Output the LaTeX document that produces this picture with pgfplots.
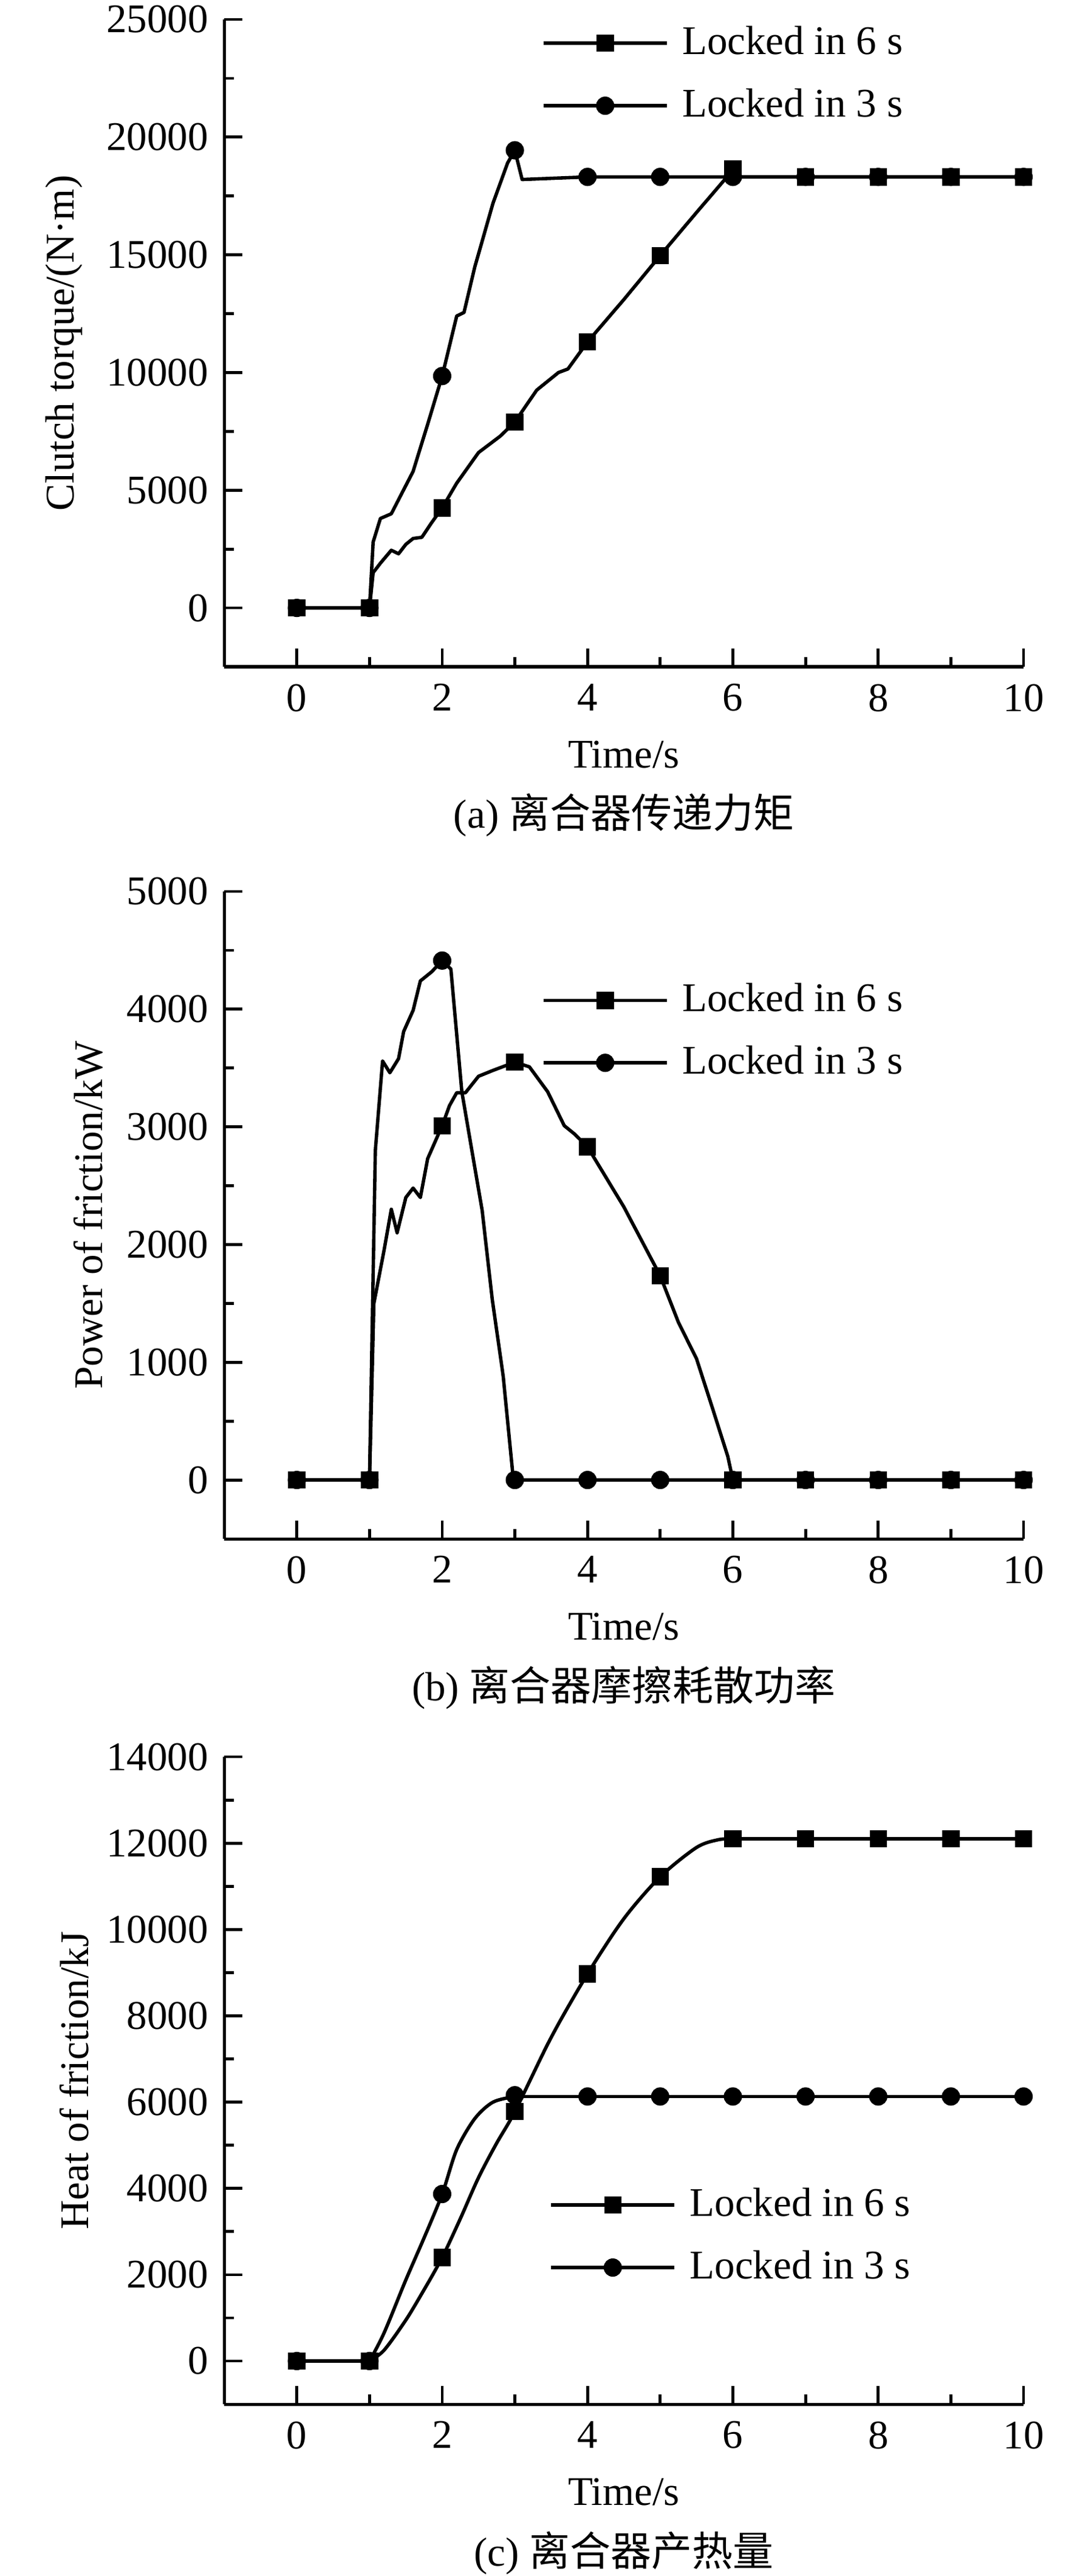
\documentclass[12pt,border=0pt]{standalone}
\usepackage{fontspec}
\setmainfont{Liberation Serif}
\newfontfamily\cjk{Noto Sans CJK SC}
\usepackage{pgfplots}
\pgfplotsset{compat=1.18}

\pgfplotsset{
  myaxis/.style={
    width=235.70pt, height=190.92pt, scale only axis,
    xmin=-1, xmax=10, clip=false,
    axis x line*=bottom, axis y line*=left,
    axis line style={line width=0.9pt, -},
    tick style={line width=0.85pt, black},
    tick align=inside,
    major tick length=5.4pt, minor tick length=2.8pt,
    xtick={0,2,...,10}, minor xtick={1,3,...,9},
    scaled y ticks=false, scaled x ticks=false,
    /pgf/number format/assume math mode=true,
    /pgf/number format/1000 sep={},
    xticklabel style={yshift=-0.9pt},
    yticklabel style={xshift=-0.5pt},
    xlabel={Time/s},
    xlabel style={at={(axis description cs:0.5,0)}, anchor=base, yshift=-29.73pt},
    legend image code/.code={\draw[mark repeat=2,mark phase=2] plot coordinates {(0pt,0pt) (18.15pt,0pt) (36.3pt,0pt)};},
    legend style={draw=none, fill=none, inner sep=0pt, outer sep=0pt, row sep=8.3pt, column sep=4.1pt, nodes={inner sep=0pt}},
    legend cell align=left,
  },
  ln/.style={black, line width=1pt, line join=round, forget plot},
  sq/.style={black, only marks, mark=square*, mark size=2.3pt, mark options={line width=0.5pt}, forget plot},
  ci/.style={black, only marks, mark=*, mark size=2.45pt, mark options={line width=0.5pt}, forget plot},
}

\begin{document}
\begin{tikzpicture}

% ---------------- (a) ----------------
\begin{axis}[myaxis, name=a, at={(66.09pt,-196.65pt)}, anchor=south west,
  ymin=-2500, ymax=25000,
  ytick={0,5000,...,25000}, minor ytick={2500,7500,...,22500},
  ylabel={Clutch torque/(N·m)},
  ylabel style={at={(axis description cs:-0.1877,0.5)}, anchor=base},
  legend style={at={(axis description cs:0.3975,0.9897)}, anchor=north west}]
\addlegendimage{black, line width=1pt, mark=square*, mark size=2.3pt, mark options={line width=0.5pt}}
\addlegendentry{Locked in 6 s}
\addlegendimage{black, line width=1pt, mark=*, mark size=2.45pt, mark options={line width=0.5pt}}
\addlegendentry{Locked in 3 s}
\addplot[ln] coordinates {(0,0) (1,0) (1.05,1500) (1.15,1900) (1.3,2450) (1.4,2300) (1.5,2700) (1.6,2950) (1.72,3000) (1.85,3600) (2,4250) (2.2,5300) (2.5,6600) (2.8,7300) (3,7900) (3.3,9250) (3.6,10000) (3.73,10150) (4,11300) (4.5,13100) (5,14970) (5.5,16800) (6,18600) (6.1,18310) (10,18310)};
\addplot[sq] coordinates {(0,0) (1,0) (2,4250) (3,7900) (4,11300) (5,14970) (6,18650) (7,18310) (8,18310) (9,18310) (10,18310)};
\addplot[ln] coordinates {(0,0) (1,0) (1.05,2800) (1.15,3800) (1.3,4000) (1.45,4900) (1.6,5800) (1.8,7800) (2,9850) (2.2,12400) (2.3,12550) (2.45,14500) (2.7,17200) (2.9,18900) (3,19440) (3.1,18200) (4,18310) (10,18310)};
\addplot[ci] coordinates {(0,0) (1,0) (2,9850) (3,19440) (4,18310) (5,18310) (6,18310) (7,18310) (8,18310) (9,18310) (10,18310)};
\end{axis}
\node[anchor=base] at ([yshift=-47.64pt]a.south) {(a) {\cjk 离合器传递力矩}};

% ---------------- (b) ----------------
\begin{axis}[myaxis, name=b, at={(66.09pt,-453.84pt)}, anchor=south west,
  ymin=-500, ymax=5000,
  ytick={0,1000,...,5000}, minor ytick={500,1500,...,4500},
  ylabel={Power of friction/kW},
  ylabel style={at={(axis description cs:-0.1527,0.5)}, anchor=base},
  legend style={at={(axis description cs:0.3975,0.8583)}, anchor=north west}]
\addlegendimage{black, line width=1pt, mark=square*, mark size=2.3pt, mark options={line width=0.5pt}}
\addlegendentry{Locked in 6 s}
\addlegendimage{black, line width=1pt, mark=*, mark size=2.45pt, mark options={line width=0.5pt}}
\addlegendentry{Locked in 3 s}
\addplot[ln] coordinates {(0,0) (1,0) (1.06,1500) (1.2,1950) (1.3,2300) (1.38,2100) (1.5,2400) (1.6,2480) (1.7,2400) (1.8,2730) (2,3010) (2.1,3180) (2.2,3290) (2.32,3290) (2.5,3430) (2.7,3480) (3,3550) (3.2,3510) (3.45,3300) (3.68,3010) (3.82,2940) (4,2830) (4.5,2320) (5,1735) (5.25,1340) (5.5,1030) (5.74,570) (5.93,200) (6,0) (10,0)};
\addplot[sq] coordinates {(0,0) (1,0) (2,3010) (3,3550) (4,2830) (5,1735) (6,0) (7,0) (8,0) (9,0) (10,0)};
\addplot[ln] coordinates {(0,0) (1,0) (1.08,2800) (1.18,3560) (1.28,3460) (1.4,3580) (1.47,3810) (1.6,3990) (1.7,4240) (1.86,4320) (2,4413) (2.12,4340) (2.27,3300) (2.55,2290) (2.69,1530) (2.84,880) (2.98,0) (3,0) (10,0)};
\addplot[ci] coordinates {(0,0) (1,0) (2,4413) (3,0) (4,0) (5,0) (6,0) (7,0) (8,0) (9,0) (10,0)};
\end{axis}
\node[anchor=base] at ([yshift=-47.64pt]b.south) {(b) {\cjk 离合器摩擦耗散功率}};

% ---------------- (c) ----------------
\begin{axis}[myaxis, name=c, at={(66.09pt,-709.06pt)}, anchor=south west,
  ymin=-1000, ymax=14000,
  ytick={0,2000,...,14000}, minor ytick={1000,3000,...,13000},
  ylabel={Heat of friction/kJ},
  ylabel style={at={(axis description cs:-0.1695,0.5)}, anchor=base},
  legend style={at={(axis description cs:0.407,0.3341)}, anchor=north west}]
\addlegendimage{black, line width=1pt, mark=square*, mark size=2.3pt, mark options={line width=0.5pt}}
\addlegendentry{Locked in 6 s}
\addlegendimage{black, line width=1pt, mark=*, mark size=2.45pt, mark options={line width=0.5pt}}
\addlegendentry{Locked in 3 s}
\addplot[ln] coordinates {(0,0) (1,0)};
\addplot[ln, smooth, tension=0.5] coordinates {(1,0) (1.2,250) (1.5,950) (1.75,1650) (2,2400) (2.25,3300) (2.5,4250) (2.75,5050) (3,5780) (3.5,7500) (4,8970) (4.5,10250) (5,11220) (5.5,11900) (5.8,12080) (6,12100)};
\addplot[ln] coordinates {(6,12100) (10,12100)};
\addplot[sq] coordinates {(0,0) (1,0) (2,2400) (3,5780) (4,8970) (5,11220) (6,12100) (7,12100) (8,12100) (9,12100) (10,12100)};
\addplot[ln, smooth, tension=0.5] coordinates {(1,0) (1.2,650) (1.5,1880) (1.75,2850) (2,3870) (2.2,4900) (2.45,5620) (2.7,6000) (3,6130)};
\addplot[ln] coordinates {(3,6130) (10,6130)};
\addplot[ci] coordinates {(0,0) (1,0) (2,3870) (3,6160) (4,6130) (5,6130) (6,6130) (7,6130) (8,6130) (9,6130) (10,6130)};
\end{axis}
\node[anchor=base] at ([yshift=-47.64pt]c.south) {(c) {\cjk 离合器产热量}};

\pgfresetboundingbox
\useasboundingbox (0pt,0pt) rectangle (317.37pt,-759.74pt);
\end{tikzpicture}
\end{document}
